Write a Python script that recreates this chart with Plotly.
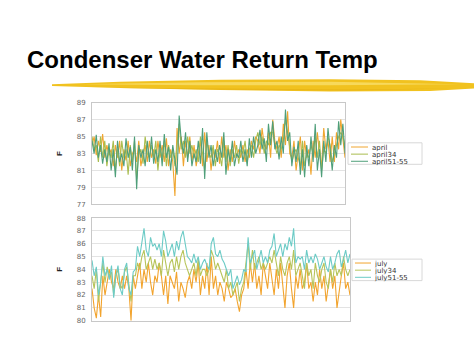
import plotly.graph_objects as go

W, H = 474, 355

title_text = "Condenser Water Return Temp"

# ---------------- data ----------------
april_names = ["april", "april34", "april51-55"]
april = [
    84.0, 85.0, 82.8, 84.5, 83.2, 85.3, 82.5, 84.0, 82.8, 83.5,
    81.5, 84.0, 82.5, 84.5, 81.0, 83.5, 82.2, 84.5, 81.5, 83.0,
    83.5, 82.0, 84.5, 81.5, 83.0, 84.0, 82.0, 84.5, 82.5, 83.5,
    81.8, 84.5, 82.5, 84.0, 82.0, 84.8, 81.5, 83.5, 82.0, 78.0,
    86.0, 83.0, 85.0, 81.5, 84.5, 82.5, 85.0, 82.0, 84.0, 81.5,
    83.0, 84.5, 81.5, 85.5, 82.0, 84.0, 81.0, 83.5, 82.5, 84.5,
    81.8, 85.0, 82.5, 84.0, 81.0, 83.5, 82.0, 84.5, 82.5, 83.5,
    82.5, 84.0, 82.0, 83.5, 82.5, 84.5, 83.5, 85.0, 84.5, 83.0,
    86.0, 84.0, 83.5, 85.5, 82.5, 87.0, 84.5, 83.5, 85.0, 82.5,
    86.5, 84.0, 88.0, 83.0, 82.5, 84.5, 81.0, 83.0, 85.0, 81.0,
    84.5, 82.5, 83.5, 80.5, 84.5, 82.5, 85.5, 83.0, 81.5, 86.0,
    83.5, 84.5, 82.0, 85.0, 82.0, 85.5, 83.5, 87.0, 84.5, 82.5,
]
april34 = [
    85.0, 83.5, 84.0, 82.0, 85.0, 82.5, 84.5, 81.5, 83.5, 82.5,
    84.5, 81.0, 83.5, 81.5, 84.5, 82.5, 83.5, 80.5, 84.0, 82.0,
    84.5, 80.0, 83.0, 83.5, 81.8, 85.0, 83.0, 82.5, 84.0, 82.5,
    84.5, 81.0, 83.5, 82.5, 84.5, 81.5, 84.0, 82.5, 83.5, 81.5,
    84.0, 86.5, 83.5, 84.5, 82.5, 85.0, 83.0, 84.0, 82.5, 83.5,
    82.0, 85.0, 83.0, 81.0, 84.5, 83.0, 82.5, 84.0, 81.5, 83.5,
    83.0, 81.5, 84.5, 82.0, 84.0, 81.5, 83.5, 82.5, 84.0, 81.8,
    83.5, 83.0, 84.5, 82.0, 83.5, 84.0, 82.5, 84.5, 85.5, 84.0,
    85.0, 83.0, 84.5, 84.0, 85.5, 85.5, 84.0, 83.0, 84.0, 83.5,
    84.5, 87.0, 85.5, 84.0, 82.0, 83.0, 83.5, 82.5, 81.5, 84.5,
    81.5, 83.0, 82.5, 84.0, 83.0, 85.0, 82.5, 84.5, 81.0, 83.5,
    83.0, 85.0, 84.0, 82.0, 83.0, 84.0, 85.0, 85.5, 85.0, 84.0,
]
april51_55 = [
    84.5, 83.0, 85.2, 82.5, 84.0, 81.8, 83.5, 82.0, 84.2, 81.0,
    83.5, 80.2, 84.5, 82.0, 83.0, 81.5, 84.8, 82.5, 83.8, 81.0,
    85.0, 78.8, 84.0, 82.5, 83.5, 81.5, 84.5, 82.0, 85.0, 81.8,
    83.5, 82.0, 84.5, 81.5, 85.3, 82.5, 83.8, 81.0, 84.0, 82.5,
    80.5, 87.5, 84.5, 83.0, 85.5, 82.0, 84.5, 81.5, 83.0, 82.0,
    84.5, 81.8, 86.0, 80.0, 85.5, 82.5, 84.0, 81.5, 83.5, 82.0,
    84.0, 82.5, 85.5, 80.5, 83.5, 82.0, 84.5, 81.5, 83.0, 82.5,
    84.5, 82.0, 83.5, 81.5, 84.8, 82.5, 85.0, 83.0, 84.0, 85.8,
    83.5, 84.8, 82.0, 86.5, 84.0, 86.8, 83.5, 84.5, 82.3, 85.0,
    83.0, 88.2, 84.5, 85.5, 81.5, 83.8, 82.0, 84.5, 80.5, 83.5,
    80.2, 84.0, 81.5, 85.0, 82.0, 86.5, 81.0, 83.5, 80.2, 84.5,
    82.0, 86.0, 83.0, 81.0, 84.0, 82.5, 86.8, 84.0, 86.5, 83.0,
]

july_names = ["july", "july34", "july51-55"]
july = [
    82.5, 81.0, 80.2, 82.0, 80.3, 83.5, 82.0, 83.0, 84.0, 83.0,
    82.5, 84.0, 83.0, 82.5, 83.5, 82.5, 83.5, 82.5, 80.0, 83.5,
    82.5, 83.5, 84.5, 82.5, 84.0, 83.0, 84.5, 83.0, 82.0, 83.5,
    83.0, 84.5, 83.5, 82.0, 83.5, 81.3, 83.5, 83.0, 82.5, 83.8,
    81.5, 83.0, 82.5, 81.8, 83.0, 83.5, 82.5, 84.0, 83.0, 84.5,
    82.0, 83.5, 82.5, 84.5, 82.0, 85.0, 82.5, 83.5, 82.0, 83.0,
    82.5, 81.5, 83.0, 82.5, 81.8, 82.0, 82.5, 81.5, 80.7, 82.0,
    82.5, 84.0, 82.5, 84.5, 83.0, 84.5, 82.5, 83.5, 82.0, 84.5,
    83.5, 82.5, 84.5, 83.0, 82.0, 84.0, 82.5, 84.5, 82.5, 81.0,
    83.5, 84.5, 82.5, 81.0, 83.5, 82.5, 84.0, 82.5, 83.0, 84.5,
    82.5, 83.0, 81.5, 83.0, 82.0, 84.0, 82.5, 83.5, 81.5, 83.0,
    84.0, 82.5, 83.5, 81.0, 82.5, 83.5, 84.5, 82.5, 83.0, 82.0,
]
july34 = [
    83.5, 82.5, 84.0, 81.5, 83.0, 84.5, 83.0, 84.2, 83.5, 83.8,
    82.0, 83.5, 84.0, 82.8, 82.5, 83.8, 84.2, 82.8, 81.5, 83.5,
    83.5, 84.5, 84.0, 85.0, 85.5, 84.0, 84.5, 85.0, 84.0, 84.8,
    84.0, 84.5, 83.5, 85.5, 84.5, 83.5, 84.5, 84.8, 83.8, 85.0,
    84.0, 85.0, 85.5, 84.5, 84.0, 83.5, 84.0, 84.5, 83.5, 84.8,
    83.5, 84.0, 84.0, 83.5, 84.0, 85.5, 85.0, 84.0, 84.5, 84.0,
    83.5, 83.0, 84.0, 82.5, 83.0, 82.0, 82.5, 83.0, 81.5, 82.5,
    83.0, 84.5, 86.0, 84.0, 85.5, 84.0, 84.5, 85.0, 84.0, 84.5,
    84.0, 84.5, 85.0, 84.5, 85.5, 84.5, 83.5, 85.0, 84.0, 83.5,
    84.5, 85.0, 84.0, 85.5, 83.5, 84.0, 84.5, 83.5, 82.5, 84.5,
    83.5, 84.0, 82.5, 84.5, 83.5, 83.0, 84.0, 84.5, 83.0, 82.5,
    84.0, 83.0, 84.5, 83.5, 84.0, 83.5, 85.0, 84.0, 83.5, 84.0,
]
july51_55 = [
    84.7, 83.5, 84.2, 82.0, 83.0, 85.0, 83.5, 84.0, 83.2, 84.3,
    81.8, 83.5, 84.3, 82.5, 82.0, 84.0, 84.5, 82.5, 82.0, 83.8,
    84.0, 85.8, 85.0, 86.0, 87.2, 85.5, 85.0, 86.5, 85.8, 86.0,
    85.5, 86.0, 85.0, 87.0, 86.2, 85.0, 85.5, 86.0, 85.0, 86.2,
    85.5, 86.5, 87.0, 86.0, 85.0, 84.8, 84.5, 85.2, 84.5, 85.0,
    84.0, 84.5, 84.8, 84.3, 84.0, 86.0, 86.5, 85.2, 85.0, 85.5,
    84.8, 84.5, 84.0, 83.5, 84.0, 82.5, 83.0, 83.5, 82.8, 83.2,
    84.0, 83.8, 86.5, 84.5, 85.0, 85.5, 84.0, 84.8, 85.5, 84.5,
    85.0, 84.5, 85.5, 85.8, 86.8, 85.0, 85.5, 86.0, 85.0, 86.0,
    85.5, 86.5, 85.8, 87.2, 84.5, 85.0, 84.8, 85.0, 84.0, 85.5,
    84.5, 85.0, 84.5, 85.2, 84.8, 84.0, 84.5, 85.0, 84.2, 83.8,
    85.0, 84.0, 84.5, 85.2, 85.5, 84.2, 84.8, 85.5, 84.5, 85.2,
]

top_ticks = [77, 79, 81, 83, 85, 87, 89]
bottom_ticks = [80, 81, 82, 83, 84, 85, 86, 87, 88]

top_colors = ["#f0a630", "#a9bd4f", "#4f9f7a"]
bottom_colors = ["#f2a42e", "#b7c45a", "#6ccbc6"]

# ---------------- figure ----------------
def px(x):
    return x / W

def py(y):
    return 1 - y / H

fig = go.Figure()

for name, vals, col in zip(april_names, [april, april34, april51_55], top_colors):
    fig.add_trace(go.Scatter(x=list(range(len(vals))), y=vals, mode="lines", name=name,
                             line=dict(color=col, width=1.1), xaxis="x", yaxis="y",
                             showlegend=False))
for name, vals, col in zip(july_names, [july, july34, july51_55], bottom_colors):
    fig.add_trace(go.Scatter(x=list(range(len(vals))), y=vals, mode="lines", name=name,
                             line=dict(color=col, width=1.1), xaxis="x2", yaxis="y2",
                             showlegend=False))

axis_common = dict(showline=True, linecolor="#c8c8c8", linewidth=1, mirror=True,
                   zeroline=False)
tickfont = dict(family="DejaVu Sans, sans-serif", size=7, color="#666666")
ytitle_font = dict(family="Liberation Sans, Arial", size=8, color="#222")

n_top = len(april)
n_bot = len(july)
fig.update_layout(
    width=W, height=H,
    margin=dict(l=0, r=0, t=0, b=0),
    paper_bgcolor="white", plot_bgcolor="white",
    showlegend=False,
    xaxis=dict(domain=[px(92), px(345)], anchor="y", range=[0, n_top - 1],
               showgrid=False, showticklabels=False, ticks="", **axis_common),
    yaxis=dict(domain=[py(205), py(101)], anchor="x", range=[77, 89],
               tickvals=top_ticks, showgrid=True, gridcolor="#e3e3e3",
               tickfont=tickfont, ticks="", ticklabelstandoff=4,
               title=dict(text="<b>F</b>", font=ytitle_font, standoff=12),
               **axis_common),
    xaxis2=dict(domain=[px(92), px(350)], anchor="y2", range=[0, n_bot - 1],
                showgrid=False, showticklabels=False, ticks="", **axis_common),
    yaxis2=dict(domain=[py(324), py(219)], anchor="x2", range=[80, 88],
                tickvals=bottom_ticks, showgrid=True, gridcolor="#e3e3e3",
                tickfont=tickfont, ticks="", ticklabelstandoff=4,
                title=dict(text="<b>F</b>", font=ytitle_font, standoff=12),
                **axis_common),
)

# compact legends (drawn as a box, short line samples and real text)
def add_legend(names, colors, x0, y0, x1, y1, rows_y, line_x0, line_x1, text_x):
    fig.add_shape(type="rect", xref="paper", yref="paper",
                  x0=px(x0), x1=px(x1), y0=py(y1), y1=py(y0),
                  line=dict(color="#d8d8d8", width=1), fillcolor="white")
    for name, col, ry in zip(names, colors, rows_y):
        fig.add_shape(type="line", xref="paper", yref="paper",
                      x0=px(line_x0), x1=px(line_x1), y0=py(ry), y1=py(ry),
                      line=dict(color=col, width=1))
        fig.add_annotation(text=name, xref="paper", yref="paper", x=px(text_x), y=py(ry),
                           xanchor="left", yanchor="middle", showarrow=False,
                           height=7.3, valign="middle", borderpad=0,
                           font=dict(family="DejaVu Sans, sans-serif", size=7, color="#333"))

add_legend(april_names, top_colors, 348, 142, 422, 164, [146.3, 153.6, 160.9], 351, 368, 371)
add_legend(july_names, bottom_colors, 352, 261, 422, 283, [265, 272.3, 279.6], 355, 371, 373)

# title
fig.add_annotation(text="<b>" + title_text + "</b>", xref="paper", yref="paper",
                   x=px(25), y=py(57), xanchor="left", yanchor="middle", showarrow=False,
                   font=dict(family="Liberation Sans, Arial, sans-serif", size=24, color="black"))

# yellow brush stroke under the title
def path_from(points):
    return "M " + " L ".join(f"{px(x):.4f},{py(y):.4f}" for x, y in points) + " Z"

stroke_main = [(52, 82), (120, 79.5), (220, 77.5), (330, 77), (420, 78), (474, 81),
               (474, 86.5), (430, 89), (330, 89.5), (220, 88), (120, 86), (52, 84)]
stroke_hi = [(80, 82), (200, 80), (330, 79.5), (460, 82), (330, 83), (200, 83)]
stroke_lo = [(90, 85.5), (220, 86.5), (350, 87.5), (450, 86.5), (350, 88.5), (220, 87.8)]
fig.add_shape(type="path", path=path_from(stroke_main), xref="paper", yref="paper",
              fillcolor="#f1c21f", line=dict(width=0), layer="below")
fig.add_shape(type="path", path=path_from(stroke_hi), xref="paper", yref="paper",
              fillcolor="#f9de6a", line=dict(width=0), layer="below", opacity=0.8)
fig.add_shape(type="path", path=path_from(stroke_lo), xref="paper", yref="paper",
              fillcolor="#e3ad12", line=dict(width=0), layer="below", opacity=0.6)

fig.write_html("out.html")
